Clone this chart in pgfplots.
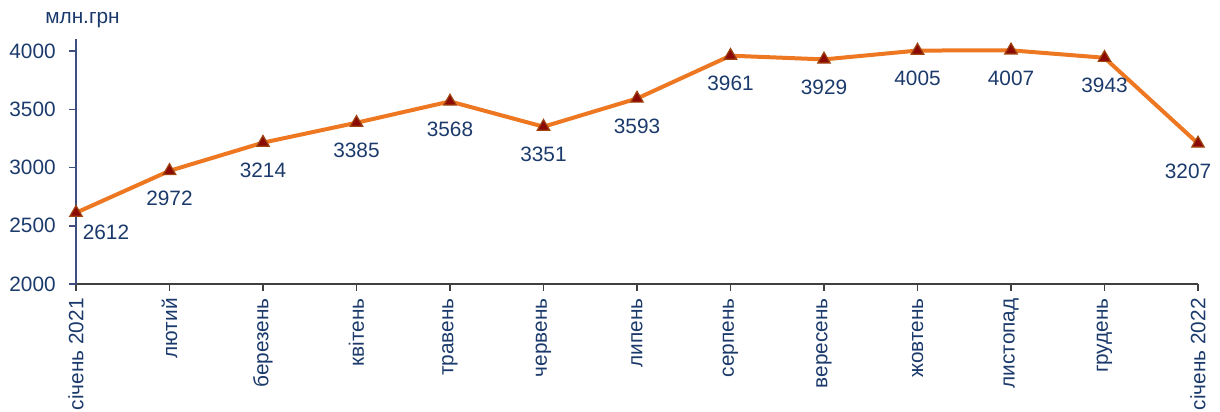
\documentclass[border=0pt]{standalone}
\usepackage{pgfplots}
\pgfplotsset{compat=1.18}
\usepackage{fontspec}
\setmainfont{Liberation Sans}
\definecolor{txt}{HTML}{1B3A6B}
\definecolor{ln}{HTML}{EE7722}
\definecolor{mk}{HTML}{8B0A05}
\definecolor{mkedge}{HTML}{A0440F}
\definecolor{yax}{HTML}{3E4E7E}
\definecolor{xax}{HTML}{404040}
\begin{document}
\fontsize{10.4}{12}\selectfont
\begin{tikzpicture}
\useasboundingbox (-38pt,-64pt) rectangle (572pt,142pt);
\begin{axis}[
    scale only axis,
    width=561pt, height=122.25pt,
    at={(0,0)}, anchor=south west,
    xmin=0, xmax=12, ymin=2000, ymax=4100,
    axis x line*=bottom, axis y line*=left,
    x axis line style={xax, line width=0.9pt, -},
    y axis line style={yax, line width=0.9pt, -},
    xtick={0,...,12},
    xticklabels={січень 2021,лютий,березень,квітень,травень,червень,липень,серпень,вересень,жовтень,листопад,грудень,січень 2022},
    ytick={2000,2500,...,4000},
    tick align=outside,
    x tick style={xax, line width=0.9pt},
    y tick style={yax, line width=0.8pt},
    major tick length=3.5pt,
    xticklabel style={rotate=90, anchor=east, text=txt},
    yticklabel style={text=txt, xshift=-3pt},
    /pgf/number format/assume math mode=true,
    /pgf/number format/1000 sep={},
    clip=false,
    nodes near coords,
    every node near coord/.append style={text=txt, anchor=center, yshift=-14pt},
    coordinate style/.condition={x==0}{xshift=15pt, yshift=4pt},
    coordinate style/.condition={x==12}{xshift=-5pt},
]
\addplot[ln, line width=2pt, mark=triangle*,
    mark size=3.6pt,
    mark options={fill=mk, draw=mkedge, line width=0.6pt, solid}]
coordinates {
(0,2612) (1,2972) (2,3214) (3,3385) (4,3568) (5,3351) (6,3593)
(7,3961) (8,3929) (9,4005) (10,4007) (11,3943) (12,3207)
};
\end{axis}
\node[anchor=west, text=txt] at (-19pt,132pt) {млн.грн};
\end{tikzpicture}
\end{document}
